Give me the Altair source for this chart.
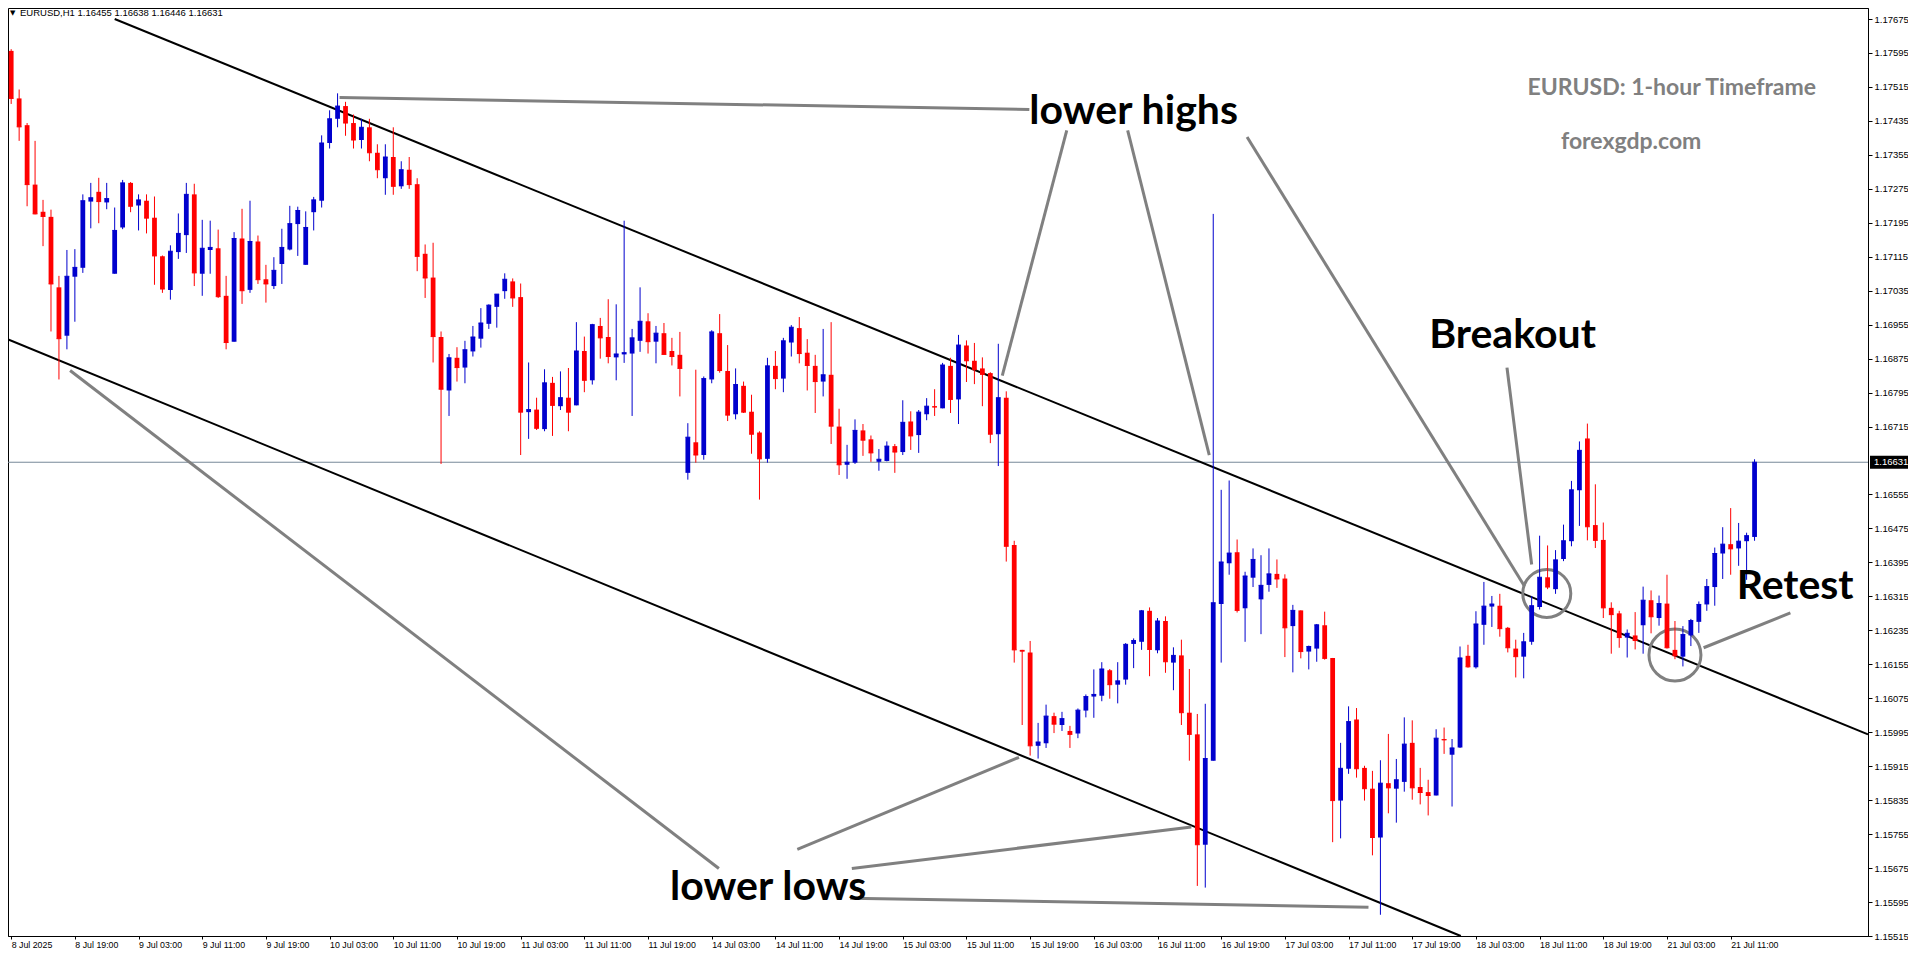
import altair as alt
import pandas as pd

# ---------------- data (EURUSD H1) ----------------
opens = [1.17600,1.17488,1.17425,1.17285,1.17221,1.17209,1.17043,1.16929,1.17068,1.17089,
         1.17245,1.17268,1.17243,1.17075,1.17184,1.17289,1.17236,1.17247,1.17207,1.17116,
         1.17037,1.17126,1.17166,1.17262,1.17075,1.17131,1.17135,1.17023,1.16915,1.17158,
         1.17037,1.17151,1.17062,1.17046,1.17098,1.17132,1.17192,1.17096,1.17220,1.17247,
         1.17383,1.17440,1.17470,1.17430,1.17390,1.17420,1.17360,1.17300,1.17350,1.17281,
         1.17320,1.17286,1.17122,1.17066,1.16926,1.16800,1.16877,1.16854,1.16892,1.16922,
         1.16957,1.16997,1.17034,1.17057,1.17020,1.16749,1.16755,1.16709,1.16818,1.16763,
         1.16783,1.16765,1.16893,1.16824,1.16952,1.16926,1.16878,1.16885,1.16887,1.16917,
         1.16963,1.16915,1.16935,1.16893,1.16884,1.16606,1.16678,1.16648,1.16826,1.16935,
         1.16846,1.16744,1.16811,1.16750,1.16701,1.16639,1.16858,1.16828,1.16913,1.16947,
         1.16889,1.16858,1.16821,1.16837,1.16715,1.16625,1.16630,1.16706,1.16685,1.16632,
         1.16634,1.16669,1.16655,1.16727,1.16695,1.16744,1.16763,1.16758,1.16858,1.16779,
         1.16906,1.16870,1.16852,1.16841,1.16697,1.16783,1.16436,1.16189,1.16183,1.15963,
         1.15969,1.16033,1.16012,1.15998,1.15992,1.16046,1.16079,1.16081,1.16141,1.16107,
         1.16119,1.16203,1.16208,1.16281,1.16188,1.16257,1.16159,1.16176,1.16041,1.15990,
         1.15730,1.15928,1.16297,1.16393,1.16419,1.16287,1.16359,1.16308,1.16342,1.16368,
         1.16357,1.16245,1.16282,1.16185,1.16192,1.16247,1.16170,1.15834,1.15909,1.16025,
         1.15911,1.15862,1.15747,1.15875,1.15862,1.15878,1.15970,1.15866,1.15854,1.15846,
         1.15979,1.15942,1.15959,1.16175,1.16148,1.16248,1.16291,1.16293,1.16241,1.16192,
         1.16173,1.16208,1.16290,1.16360,1.16332,1.16403,1.16445,1.16565,1.16687,1.16483,
         1.16448,1.16288,1.16275,1.16218,1.16223,1.16247,1.16306,1.16264,1.16298,1.16189,
         1.16173,1.16223,1.16255,1.16296,1.16337,1.16416,1.16438,1.16428,1.16445,1.16455]
highs = [1.17604,1.17509,1.17430,1.17388,1.17249,1.17226,1.17070,1.17131,1.17133,1.17262,
         1.17289,1.17301,1.17289,1.17231,1.17296,1.17291,1.17262,1.17262,1.17257,1.17118,
         1.17142,1.17217,1.17289,1.17287,1.17202,1.17200,1.17179,1.17070,1.17173,1.17228,
         1.17247,1.17165,1.17096,1.17114,1.17181,1.17235,1.17233,1.17222,1.17256,1.17401,
         1.17460,1.17500,1.17480,1.17450,1.17440,1.17440,1.17380,1.17380,1.17420,1.17340,
         1.17350,1.17300,1.17144,1.17148,1.16939,1.16886,1.16902,1.16917,1.16952,1.16994,
         1.17003,1.17027,1.17076,1.17064,1.17052,1.16866,1.16783,1.16850,1.16832,1.16845,
         1.16853,1.16961,1.16927,1.16957,1.16971,1.17015,1.17003,1.17200,1.16945,1.17043,
         1.16982,1.16952,1.16959,1.16924,1.16938,1.16723,1.16849,1.16833,1.16942,1.16980,
         1.16907,1.16852,1.16821,1.16790,1.16704,1.16877,1.16893,1.16924,1.16954,1.16973,
         1.16921,1.16884,1.16945,1.16961,1.16757,1.16672,1.16732,1.16721,1.16694,1.16662,
         1.16680,1.16674,1.16777,1.16751,1.16754,1.16782,1.16803,1.16865,1.16877,1.16931,
         1.16918,1.16912,1.16878,1.16843,1.16910,1.16798,1.16446,1.16189,1.16210,1.16017,
         1.16060,1.16041,1.16043,1.16010,1.16051,1.16084,1.16143,1.16160,1.16144,1.16160,
         1.16205,1.16216,1.16283,1.16289,1.16264,1.16268,1.16195,1.16213,1.16144,1.16038,
         1.16062,1.17216,1.16566,1.16588,1.16449,1.16373,1.16428,1.16412,1.16428,1.16402,
         1.16367,1.16295,1.16282,1.16199,1.16250,1.16279,1.16170,1.15970,1.16056,1.16052,
         1.15916,1.15904,1.15929,1.15991,1.15932,1.16030,1.16023,1.15911,1.15883,1.16002,
         1.16006,1.15979,1.16197,1.16201,1.16280,1.16349,1.16316,1.16321,1.16243,1.16213,
         1.16229,1.16316,1.16458,1.16435,1.16424,1.16484,1.16587,1.16680,1.16722,1.16579,
         1.16489,1.16301,1.16281,1.16237,1.16278,1.16338,1.16329,1.16317,1.16366,1.16257,
         1.16245,1.16262,1.16303,1.16356,1.16430,1.16478,1.16523,1.16488,1.16465,1.16638]
lows = [1.17475,1.17388,1.17234,1.17215,1.17140,1.16939,1.16826,1.16897,1.16962,1.17077,
        1.17182,1.17194,1.17227,1.17075,1.17180,1.17220,1.17177,1.17170,1.17049,1.17030,
        1.17014,1.17110,1.17124,1.17046,1.17023,1.17075,1.17018,1.16897,1.16915,1.17004,
        1.17030,1.17051,1.17007,1.17039,1.17051,1.17130,1.17117,1.17096,1.17177,1.17231,
        1.17370,1.17420,1.17400,1.17370,1.17370,1.17340,1.17300,1.17261,1.17261,1.17275,
        1.17275,1.17081,1.17018,1.16866,1.16627,1.16740,1.16821,1.16817,1.16880,1.16901,
        1.16945,1.16948,1.17016,1.16997,1.16648,1.16686,1.16707,1.16704,1.16693,1.16754,
        1.16704,1.16765,1.16796,1.16814,1.16875,1.16864,1.16824,1.16865,1.16740,1.16891,
        1.16887,1.16864,1.16885,1.16859,1.16786,1.16590,1.16630,1.16637,1.16817,1.16842,
        1.16728,1.16732,1.16747,1.16651,1.16543,1.16630,1.16803,1.16796,1.16880,1.16864,
        1.16800,1.16747,1.16786,1.16674,1.16601,1.16592,1.16627,1.16646,1.16632,1.16611,
        1.16633,1.16606,1.16648,1.16660,1.16653,1.16730,1.16740,1.16758,1.16747,1.16721,
        1.16820,1.16815,1.16763,1.16676,1.16622,1.16397,1.16159,1.16012,1.15940,1.15933,
        1.15958,1.15993,1.15998,1.15958,1.15981,1.16030,1.16029,1.16068,1.16074,1.16063,
        1.16107,1.16146,1.16189,1.16127,1.16181,1.16135,1.16094,1.16012,1.15928,1.15633,
        1.15629,1.15928,1.16159,1.16366,1.16277,1.16208,1.16337,1.16226,1.16326,1.16335,
        1.16172,1.16136,1.16169,1.16143,1.16161,1.16166,1.15736,1.15745,1.15897,1.15888,
        1.15834,1.15705,1.15565,1.15804,1.15782,1.15855,1.15836,1.15825,1.15799,1.15846,
        1.15944,1.15820,1.15958,1.16147,1.16145,1.16201,1.16243,1.16220,1.16183,1.16124,
        1.16122,1.16201,1.16284,1.16332,1.16321,1.16398,1.16433,1.16481,1.16447,1.16429,
        1.16264,1.16180,1.16194,1.16171,1.16190,1.16180,1.16228,1.16246,1.16192,1.16167,
        1.16150,1.16198,1.16229,1.16281,1.16293,1.16356,1.16366,1.16387,1.16354,1.16446]
closes = [1.17488,1.17421,1.17285,1.17216,1.17210,1.17051,1.16922,1.17069,1.17090,1.17247,
          1.17254,1.17245,1.17252,1.17177,1.17289,1.17234,1.17249,1.17206,1.17117,1.17039,
          1.17128,1.17170,1.17262,1.17077,1.17135,1.17137,1.17021,1.16913,1.17158,1.17035,
          1.17151,1.17061,1.17051,1.17083,1.17137,1.17193,1.17224,1.17184,1.17249,1.17383,
          1.17440,1.17470,1.17430,1.17390,1.17420,1.17360,1.17320,1.17350,1.17281,1.17320,
          1.17285,1.17116,1.17065,1.16927,1.16803,1.16877,1.16854,1.16896,1.16926,1.16959,
          1.17001,1.17027,1.17062,1.17018,1.16749,1.16755,1.16711,1.16818,1.16765,1.16783,
          1.16749,1.16893,1.16824,1.16955,1.16924,1.16880,1.16886,1.16889,1.16924,1.16963,
          1.16915,1.16935,1.16885,1.16880,1.16852,1.16690,1.16648,1.16828,1.16938,1.16847,
          1.16742,1.16814,1.16749,1.16697,1.16639,1.16858,1.16828,1.16917,1.16949,1.16887,
          1.16859,1.16821,1.16837,1.16716,1.16625,1.16631,1.16706,1.16683,1.16653,1.16638,
          1.16669,1.16655,1.16725,1.16693,1.16749,1.16763,1.16761,1.16860,1.16779,1.16907,
          1.16870,1.16849,1.16838,1.16697,1.16783,1.16433,1.16189,1.16186,1.15963,1.15972,
          1.16033,1.16014,1.16027,1.15990,1.16047,1.16079,1.16084,1.16144,1.16107,1.16116,
          1.16202,1.16211,1.16281,1.16190,1.16257,1.16161,1.16176,1.16041,1.15990,1.15730,
          1.15933,1.16300,1.16396,1.16417,1.16282,1.16363,1.16402,1.16341,1.16368,1.16356,
          1.16241,1.16282,1.16185,1.16197,1.16248,1.16169,1.15834,1.15910,1.16020,1.15909,
          1.15862,1.15747,1.15875,1.15864,1.15883,1.15967,1.15864,1.15853,1.15846,1.15981,
          1.15977,1.15958,1.16170,1.16149,1.16250,1.16292,1.16297,1.16239,1.16194,1.16173,
          1.16208,1.16293,1.16360,1.16337,1.16401,1.16446,1.16566,1.16659,1.16479,1.16447,
          1.16288,1.16272,1.16218,1.16228,1.16211,1.16306,1.16267,1.16298,1.16194,1.16175,
          1.16225,1.16258,1.16296,1.16338,1.16416,1.16438,1.16427,1.16445,1.16458,1.16631]

x_tick_idx = [0, 8, 16, 24, 32, 40, 48, 56, 64, 72, 80, 88, 96, 104, 112,
              120, 128, 136, 144, 152, 160, 168, 176, 184, 192, 200, 208, 216]
x_tick_labels = ["8 Jul 2025", "8 Jul 19:00", "9 Jul 03:00", "9 Jul 11:00", "9 Jul 19:00",
                 "10 Jul 03:00", "10 Jul 11:00", "10 Jul 19:00", "11 Jul 03:00", "11 Jul 11:00",
                 "11 Jul 19:00", "14 Jul 03:00", "14 Jul 11:00", "14 Jul 19:00", "15 Jul 03:00",
                 "15 Jul 11:00", "15 Jul 19:00", "16 Jul 03:00", "16 Jul 11:00", "16 Jul 19:00",
                 "17 Jul 03:00", "17 Jul 11:00", "17 Jul 19:00", "18 Jul 03:00", "18 Jul 11:00",
                 "18 Jul 19:00", "21 Jul 03:00", "21 Jul 11:00"]
y_ticks = [1.15515, 1.15595, 1.15675, 1.15755, 1.15835, 1.15915, 1.15995, 1.16075, 1.16155,
           1.16235, 1.16315, 1.16395, 1.16475, 1.16555, 1.16715, 1.16795, 1.16875, 1.16955,
           1.17035, 1.17115, 1.17195, 1.17275, 1.17355, 1.17435, 1.17515, 1.17595, 1.17675]
current_price = 1.16631
header_symbol = "EURUSD,H1"
header_values = "1.16455 1.16638 1.16446 1.16631"

# channel trend lines: (start index, start price, end index, end price)
channel_x1 = [13.0, -0.5]
channel_y1 = [1.17675, 1.16921]
channel_x2 = [233.25, 182.1]
channel_y2 = [1.15990, 1.15515]

# grey pointer lines
ptr_x1 = [41.25, 132.6, 140.25, 155.25, 187.9, 223.5, 7.4, 98.75, 105.6, 105.4]
ptr_y1 = [1.17490, 1.17413, 1.17413, 1.17397, 1.16854, 1.16276, 1.16847, 1.15719, 1.15674, 1.15604]
ptr_x2 = [127.9, 124.5, 150.5, 190.1, 191.0, 212.6, 88.9, 126.6, 148.25, 170.5]
ptr_y2 = [1.17462, 1.16835, 1.16648, 1.16339, 1.16390, 1.16194, 1.15674, 1.15936, 1.15772, 1.15583]

circle_x = [192.9, 209.0]
circle_y = [1.16322, 1.16177]
circle_d = [48, 52]

big_labels = ["lower highs", "lower lows", "Breakout", "Retest"]
big_x = [141.0, 95.1, 188.6, 224.1]
big_y = [1.17427, 1.15600, 1.16900, 1.16308]

grey_labels = ["EURUSD: 1-hour Timeframe", "forexgdp.com"]
grey_x = [208.6, 203.5]
grey_y = [1.17495, 1.17368]

# ---------------- chart ----------------
BULL = "#0000CD"
BEAR = "#FF0000"
GREY = "#808080"

n = len(opens)
df = pd.DataFrame({"i": list(range(n)), "o": opens, "h": highs, "l": lows, "c": closes})
df["dir"] = ["up" if c > o else "down" for o, c in zip(opens, closes)]
df["x_lo"] = df["i"] - 0.3
df["x_hi"] = df["i"] + 0.3

xs = alt.Scale(domain=[-0.4, 233.25], nice=False, zero=False)
ys = alt.Scale(domain=[1.15515, 1.17701], nice=False, zero=False)

label_expr = "[" + ",".join("'" + s + "'" for s in x_tick_labels) + "][round(datum.value/8)]"
x_axis = alt.Axis(values=x_tick_idx, labelExpr=label_expr, title="", grid=False,
                  labelAlign="left", labelBaseline="top", labelPadding=1, tickSize=3,
                  tickColor="#000", domainColor="#000", labelColor="#000",
                  labelFont="Liberation Sans", labelFontSize=8.8, labelOverlap=False,
                  labelFlush=False, labelBound=False, orient="bottom")
y_axis = alt.Axis(values=y_ticks, format=".5f", title="", grid=False, orient="right",
                  labelAlign="left", labelPadding=2, tickSize=4, tickColor="#000",
                  domainColor="#000", labelColor="#000", labelFont="Liberation Sans",
                  labelFontSize=9.5, labelOverlap=False, labelFlush=False, labelBound=False)


def X(f):
    return alt.X(f, type="quantitative", scale=xs, axis=x_axis)


def Y(f):
    return alt.Y(f, type="quantitative", scale=ys, axis=y_axis)


color = alt.Color("dir:N", scale=alt.Scale(domain=["up", "down"], range=[BULL, BEAR]), legend=None)

base = alt.Chart(df)

price_line = alt.Chart(pd.DataFrame({"p": [current_price]})).mark_rule(
    color="#778899", strokeWidth=1).encode(y=Y("p"))

chan = alt.Chart(pd.DataFrame({"x1": channel_x1, "y1": channel_y1, "x2": channel_x2, "y2": channel_y2})
                 ).mark_rule(color="#000", strokeWidth=2).encode(
    x=X("x1"), y=Y("y1"), x2="x2", y2="y2")

ptr = alt.Chart(pd.DataFrame({"x1": ptr_x1, "y1": ptr_y1, "x2": ptr_x2, "y2": ptr_y2})
                ).mark_rule(color=GREY, strokeWidth=3).encode(
    x=X("x1"), y=Y("y1"), x2="x2", y2="y2")

circ = alt.Chart(pd.DataFrame({"x": circle_x, "y": circle_y, "s": [d * d for d in circle_d]})
                 ).mark_point(shape="circle", filled=False, color=GREY, strokeWidth=3, opacity=1).encode(
    x=X("x"), y=Y("y"), size=alt.Size("s:Q", scale=None, legend=None))

wicks = base.mark_rule(strokeWidth=1).encode(x=X("i"), y=Y("l"), y2="h", color=color)
bodies = base.mark_rect().encode(x=X("x_lo"), x2="x_hi", y=Y("o"), y2="c", color=color)
close_marks = base.mark_rule(strokeWidth=1).encode(x=X("x_lo"), x2="x_hi", y=Y("c"), color=color)

big = alt.Chart(pd.DataFrame({"t": big_labels, "x": big_x, "y": big_y})).mark_text(
    font="Lato", fontWeight="bold", fontSize=41, color="#000", align="center", baseline="alphabetic"
).encode(x=X("x"), y=Y("y"), text="t:N")

greytxt = alt.Chart(pd.DataFrame({"t": grey_labels, "x": grey_x, "y": grey_y})).mark_text(
    font="Lato", fontWeight="bold", fontSize=23, color=GREY, align="center", baseline="alphabetic"
).encode(x=X("x"), y=Y("y"), text="t:N")

pdf = pd.DataFrame({"p": [current_price], "t": [f"{current_price:.5f}"]})
pdf["lo"] = pdf["p"] - 0.000155
pdf["hi"] = pdf["p"] + 0.000155
pbox = alt.Chart(pdf).mark_rect(color="#000").encode(
    x=alt.value(1862), x2=alt.value(1902), y=Y("lo"), y2="hi")
ptxt = alt.Chart(pdf).mark_text(color="#fff", font="Liberation Sans", fontSize=9.5,
                                align="left", baseline="middle").encode(
    x=alt.value(1866), y=Y("p"), text="t:N")

hdr = alt.Chart(pd.DataFrame({"t": [header_symbol + "  " + header_values]})).mark_text(
    font="Liberation Sans", fontSize=9.5, color="#000", align="left", baseline="middle"
).encode(x=alt.value(12), y=alt.value(5), text="t:N")
tri = alt.Chart(pd.DataFrame({"t": ["\u25bc"]})).mark_text(
    font="DejaVu Sans", fontSize=7, color="#000", align="left", baseline="middle"
).encode(x=alt.value(2), y=alt.value(5), text="t:N")

chart = alt.layer(
    price_line, chan, ptr, circ, wicks, bodies, close_marks, big, greytxt, pbox, ptxt, hdr, tri
).properties(
    width=1860, height=928,
    autosize=alt.AutoSizeParams(type="none"),
    padding={"left": 0, "top": 0, "right": 40, "bottom": 14},
    background="#ffffff",
).configure_view(stroke="#000", strokeWidth=1)

chart.save("out.html", embed_options={"renderer": "svg", "actions": False})
